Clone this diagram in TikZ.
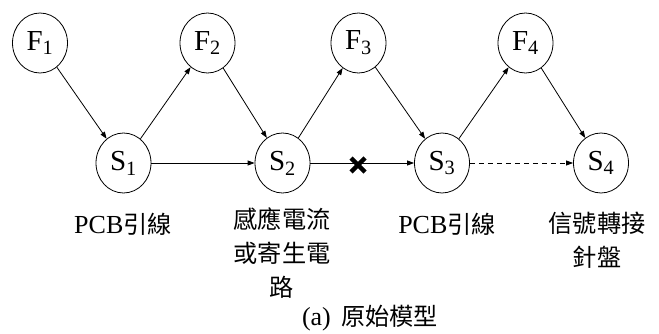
\documentclass[tikz,border=0pt]{standalone}
\usepackage{fontspec}
\setmainfont{Liberation Serif}
\newfontfamily\cjk[Scale=0.93]{Noto Sans CJK TC}
\usetikzlibrary{shapes.geometric,arrows.meta}
\newcommand\zh[1]{{\cjk #1}}

\begin{document}
\begin{tikzpicture}[x=1pt,y=-1pt,
  state/.style={ellipse,draw,line width=0.8pt,minimum width=55pt,minimum height=60pt,
    inner sep=0pt,font=\fontsize{29}{30}\selectfont},
  link/.style={line width=0.8pt,-{Triangle[length=7pt,width=5pt]}},
  lbl/.style={align=center,inner sep=0pt,font=\fontsize{26}{29}\selectfont},
  cutmark/.style={line width=4.5pt}]
  \useasboundingbox (0,0) rectangle (659,334);

  % fault sources
  \node[state] (F1) at (40,43)    {F\textsubscript{1}};
  \node[state] (F2) at (207.5,43) {F\textsubscript{2}};
  \node[state] (F3) at (358.5,43) {F\textsubscript{3}};
  \node[state] (F4) at (525.5,43) {F\textsubscript{4}};

  % signal stages
  \node[state] (S1) at (123.5,163) {S\textsubscript{1}};
  \node[state] (S2) at (282.5,163) {S\textsubscript{2}};
  \node[state] (S3) at (442,163)   {S\textsubscript{3}};
  \node[state] (S4) at (601,163)   {S\textsubscript{4}};

  % connectors
  \draw[link] (F1) -- (S1);
  \draw[link] (S1) -- (F2);
  \draw[link] (F2) -- (S2);
  \draw[link] (S2) -- (F3);
  \draw[link] (F3) -- (S3);
  \draw[link] (S3) -- (F4);
  \draw[link] (F4) -- (S4);
  \draw[link] (S1) -- (S2);
  \draw[link] (S2) -- (S3);
  \draw[link,dash pattern=on 5pt off 4pt] (S3) -- (S4);

  % broken path mark
  \coordinate (cut) at (358,165);
  \draw[cutmark] (cut) ++(-7,-7) -- ++(14,14);
  \draw[cutmark] (cut) ++(-7,7) -- ++(14,-14);

  % stage descriptions
  \node[lbl] (L1) at (123,224) {PCB\zh{引線}};
  \node[lbl] (L2) at (282,253) {\zh{感應電流}\\[5pt]\zh{或寄生電}\\[5pt]\zh{路}};
  \node[lbl] (L3) at (447,224) {PCB\zh{引線}};
  \node[lbl] (L4) at (597,240) {\zh{信號轉接}\\[5pt]\zh{針盤}};

  % caption
  \node[lbl] (cap) at (370,318) {(a)\hspace{0.4em}\zh{原始模型}};
\end{tikzpicture}
\end{document}
